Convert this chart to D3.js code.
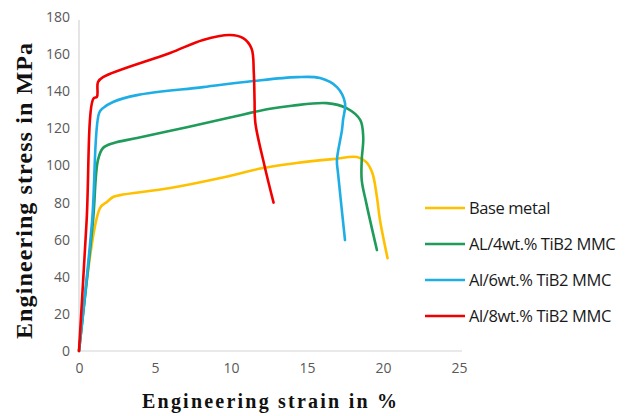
<!DOCTYPE html>
<html>
<head>
<meta charset="utf-8">
<script src="https://cdn.jsdelivr.net/npm/d3@7"></script>
<style>
html,body{margin:0;padding:0;background:#fff;}
svg{display:block;}
</style>
</head>
<body>
<svg id="chart" width="629" height="416"></svg>
<script>
// ---- data ----
const xTicks = [0, 5, 10, 15, 20, 25];
const yTicks = [0, 20, 40, 60, 80, 100, 120, 140, 160, 180];
const seriesNames = ["Base metal", "AL/4wt.% TiB2 MMC", "Al/6wt.% TiB2 MMC", "Al/8wt.% TiB2 MMC"];
const seriesColors = ["#FFC000", "#1F9B5A", "#1EAEE5", "#F20000"];

const baseStrain  = [0, 1.38, 1.84, 2.24, 2.7, 6.0, 9.3, 12.1, 14.3, 16.7, 18.3, 18.9, 19.3, 19.6, 19.8, 20.3];
const baseStress  = [0, 77, 80.3, 83, 84, 87.8, 93.2, 98.6, 101.3, 103.4, 104.5, 101.8, 95.9, 83, 70.6, 50];

const al4Strain   = [0, 0.92, 1.25, 1.58, 2.24, 3.82, 7.1, 9.93, 12.57, 14.0, 16.3, 17.6, 18.5, 18.7, 18.6, 18.6, 18.9, 19.6];
const al4Stress   = [0, 70, 103, 109.4, 112, 114.8, 120.6, 125.8, 130.6, 132.2, 133.6, 130.9, 124.5, 115.3, 102.9, 92.1, 79.7, 54.4];

const al6Strain   = [0, 0.86, 1.32, 1.58, 2.24, 3.82, 8.16, 11.45, 14.34, 15.86, 16.97, 17.5, 17.37, 17.3, 16.97, 17.04, 17.5];
const al6Stress   = [0, 70, 128.2, 130.9, 134.2, 137.9, 142.2, 145.5, 147.6, 147.1, 142.2, 133.6, 124.5, 119, 102.9, 95.9, 59.8];

const al8Strain   = [0, 0.5, 0.95, 1.18, 1.25, 1.58, 5.99, 8.16, 9.93, 10.8, 11.35, 11.5, 11.55, 11.6, 12.2, 12.8];
const al8Stress   = [0, 70, 136, 137, 145, 147.6, 160.6, 167.6, 170.3, 168.6, 163, 150, 135, 123, 100, 80];

const strains = [baseStrain, al4Strain, al6Strain, al8Strain];
const stresses = [baseStress, al4Stress, al6Stress, al8Stress];

// ---- chart ----
const svg = d3.select("#chart");
const x = d3.scaleLinear().domain([0, 25]).range([79, 459]);
const y = d3.scaleLinear().domain([0, 180]).range([351, 17]);

// axis lines
svg.append("line").attr("x1", x(0)).attr("x2", 462).attr("y1", y(0)).attr("y2", y(0))
  .attr("stroke", "#d4d4d4").attr("stroke-width", 1.2);
svg.append("line").attr("x1", x(0)).attr("x2", x(0)).attr("y1", y(0)).attr("y2", 20)
  .attr("stroke", "#d4d4d4").attr("stroke-width", 1.2);

const tickFont = "'Open Sans', 'Noto Sans', sans-serif";

const xAxis = svg.append("g").attr("transform", `translate(0,${y(0)})`)
  .call(d3.axisBottom(x).tickValues(xTicks).tickSize(0).tickPadding(12));
xAxis.select(".domain").remove();
xAxis.selectAll("text").attr("font-family", tickFont).attr("font-size", 14).attr("fill", "#595959");

const yAxis = svg.append("g").attr("transform", `translate(${x(0)},0)`)
  .call(d3.axisLeft(y).tickValues(yTicks).tickSize(0).tickPadding(9));
yAxis.select(".domain").remove();
yAxis.selectAll("text").attr("font-family", tickFont).attr("font-size", 14).attr("fill", "#595959");

// lines
const line = d3.line().curve(d3.curveCatmullRom.alpha(0.5));
strains.forEach((s, i) => {
  const pts = s.map((v, j) => [x(v), y(stresses[i][j])]);
  svg.append("path").attr("d", line(pts)).attr("fill", "none")
    .attr("stroke", seriesColors[i]).attr("stroke-width", 2.6)
    .attr("stroke-linejoin", "round").attr("stroke-linecap", "round");
});

// legend
const legend = svg.append("g");
seriesNames.forEach((name, i) => {
  const ly = 208 + i * 36;
  legend.append("line").attr("x1", 425).attr("x2", 465).attr("y1", ly).attr("y2", ly)
    .attr("stroke", seriesColors[i]).attr("stroke-width", 2.6);
  legend.append("text").attr("x", 469).attr("y", ly + 6)
    .attr("font-family", tickFont).attr("font-size", 16.5).attr("fill", "#1a1a1a")
    .attr("letter-spacing", -0.4)
    .text(name);
});

// axis titles
svg.append("text").attr("x", 142).attr("y", 408)
  .attr("font-family", "'Liberation Serif', 'Times New Roman', serif")
  .attr("font-weight", "bold").attr("font-size", 20).attr("fill", "#111")
  .attr("textLength", 255).attr("lengthAdjust", "spacing")
  .text("Engineering strain in %");

svg.append("text").attr("transform", "translate(32,339) rotate(-90)")
  .attr("font-family", "'Liberation Serif', 'Times New Roman', serif")
  .attr("font-weight", "bold").attr("font-size", 24).attr("fill", "#111")
  .attr("textLength", 296).attr("lengthAdjust", "spacing")
  .text("Engineering stress in MPa");
</script>
</body>
</html>
